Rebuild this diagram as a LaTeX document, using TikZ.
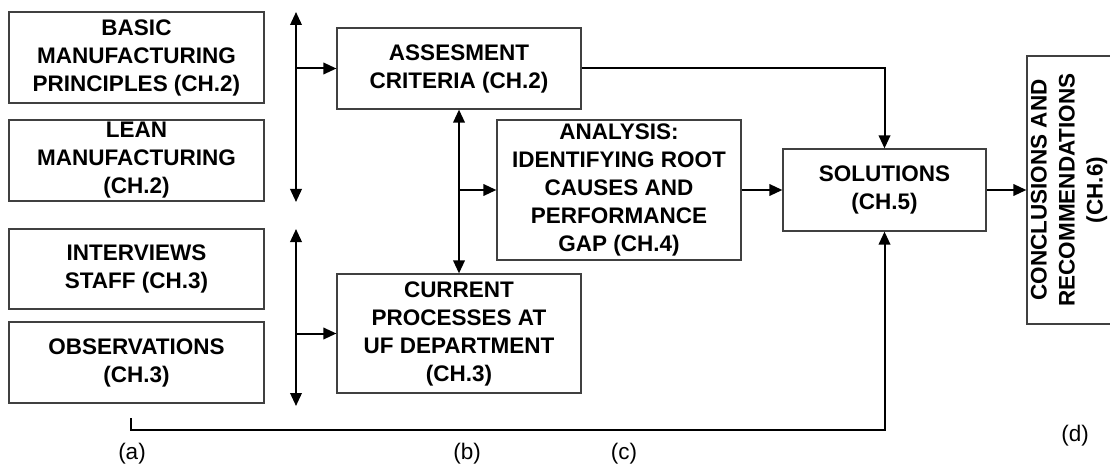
\documentclass[tikz,border=0pt]{standalone}
\usepackage{fontspec}
\setmainfont{Liberation Sans}
\usetikzlibrary{arrows.meta,calc}

\tikzset{
  box/.style={draw=black!75, line width=1.2pt, fill=white, inner sep=0pt,
    align=center, font=\bfseries\fontsize{22.5}{28}\selectfont},
  conn/.style={line width=2pt, draw=black},
  tip/.style={Triangle[length=13pt,width=11.5pt]},
  arr/.style={conn, -{Triangle[length=13pt,width=11.5pt]}},
  dbl/.style={conn, {Triangle[length=13pt,width=11.5pt]}-{Triangle[length=13pt,width=11.5pt]}},
  tag/.style={font=\fontsize{22.5}{28}\selectfont, inner sep=0pt}
}

\begin{document}
\begin{tikzpicture}[x=1pt, y=-1pt]
  % canvas
  \useasboundingbox (0,0) rectangle (1110,465);
  \fill[white] (0,0) rectangle (1110,465);
  \clip (0,0) rectangle (1110,465);

  % source boxes
  \node[box, minimum width=255pt, minimum height=91pt] (basic) at (136.5,57.5)
    {BASIC\\MANUFACTURING\\PRINCIPLES (CH.2)};
  \node[box, minimum width=255pt, minimum height=81pt] (lean) at (136.5,160.5)
    {LEAN\\MANUFACTURING\\(CH.2)};
  \node[box, minimum width=255pt, minimum height=80pt] (interv) at (136.5,269)
    {INTERVIEWS\\STAFF (CH.3)};
  \node[box, minimum width=255pt, minimum height=81pt] (obs) at (136.5,362.5)
    {OBSERVATIONS\\(CH.3)};

  % middle boxes
  \node[box, minimum width=244pt, minimum height=81pt] (assess) at (459,68.5)
    {ASSESMENT\\CRITERIA (CH.2)};
  \node[box, minimum width=244pt, minimum height=140pt] (analysis) at (619,190)
    {ANALYSIS:\\IDENTIFYING ROOT\\CAUSES AND\\PERFORMANCE\\GAP (CH.4)};
  \node[box, minimum width=244pt, minimum height=119pt] (current) at (459,333.5)
    {CURRENT\\PROCESSES AT\\UF DEPARTMENT\\(CH.3)};
  \node[box, minimum width=203pt, minimum height=82pt] (sol) at (884.5,190)
    {SOLUTIONS\\(CH.5)};

  % conclusions box (runs off the right edge)
  \node[box, minimum width=84pt, minimum height=268pt] (concl) at (1069,190) {};
  \node[box, draw=none, fill=none, rotate=90] (conclText) at (concl.center)
    {CONCLUSIONS AND\\RECOMMENDATIONS\\(CH.6)};

  % left bus lines
  \coordinate (busAtop) at (296,12);
  \coordinate (busAbot) at (296,202);
  \coordinate (busBtop) at (296,229);
  \coordinate (busBbot) at (296,406);
  \draw[dbl] (busAtop) -- (busAbot);
  \draw[dbl] (busBtop) -- (busBbot);
  \coordinate (tapA) at (busAtop |- assess.west);
  \coordinate (tapB) at (busBtop |- current.west);
  \draw[arr] (tapA) -- (assess.west);
  \draw[arr] (tapB) -- (current.west);

  % assessment <-> current, branch to analysis
  \draw[dbl] (assess.south) -- (current.north);
  \coordinate (tapC) at (assess.south |- analysis.west);
  \draw[arr] (tapC) -- (analysis.west);

  % into solutions
  \draw[arr] (assess.east) -| (sol.north);
  \draw[arr] (analysis.east) -- (sol.west);
  \draw[arr] (sol.east) -- (concl.west);

  % feedback line along the bottom
  \coordinate (loopStart) at (131,418);
  \coordinate (loopCorner) at (131,430);
  \draw[arr] (loopStart) -- (loopCorner) -| (sol.south);

  % stage labels
  \node[tag] (la) at (132,454) {(a)};
  \node[tag] (lb) at (467,454) {(b)};
  \node[tag] (lc) at (624,454) {(c)};
  \node[tag] (ld) at (1075,436) {(d)};
\end{tikzpicture}
\end{document}
